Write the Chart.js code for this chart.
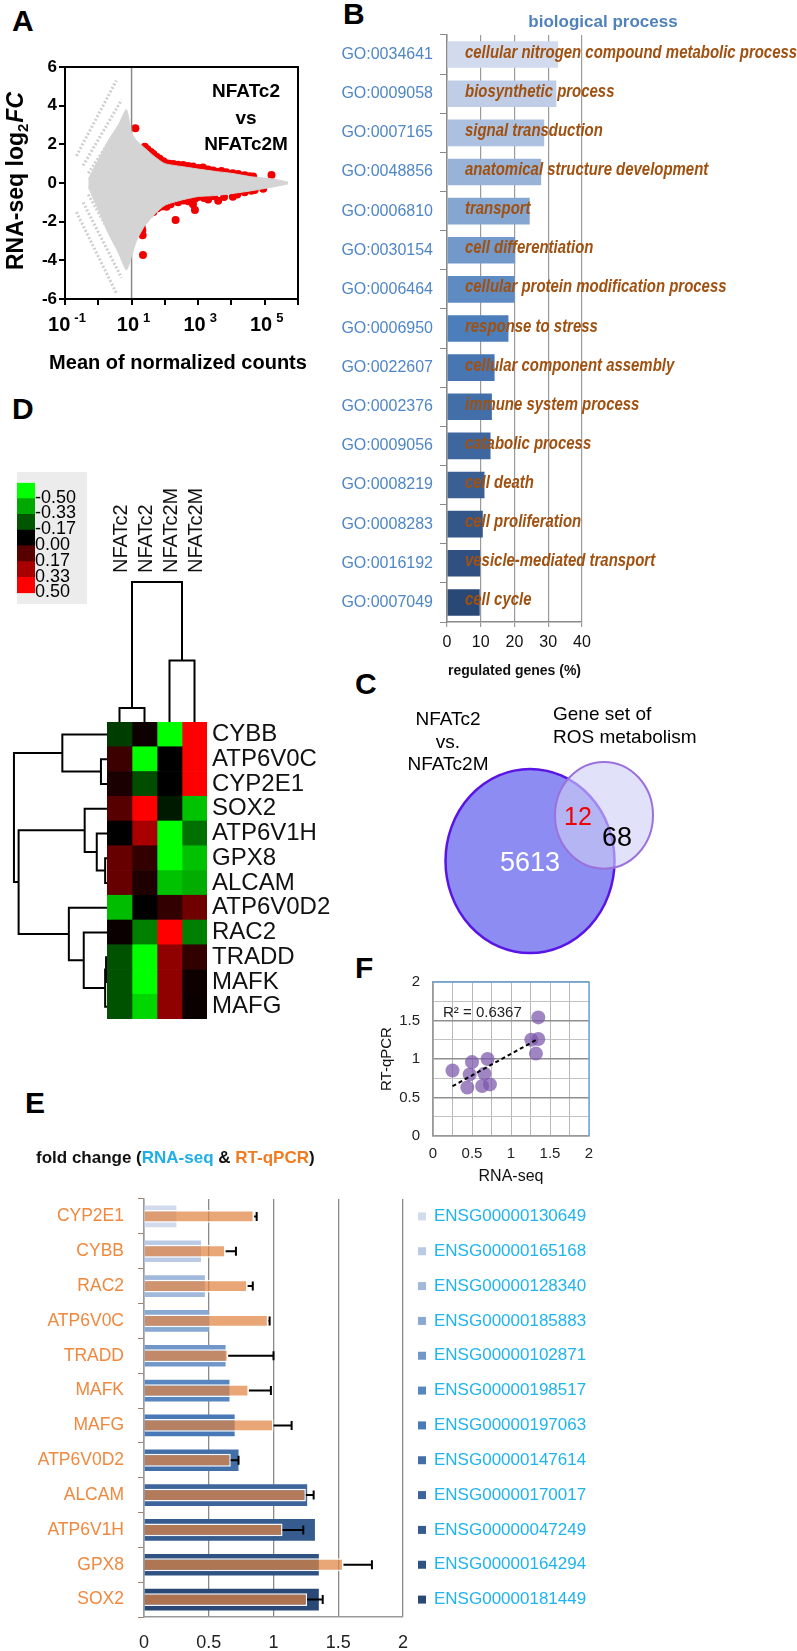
<!DOCTYPE html>
<html lang="en">
<head>
<meta charset="UTF-8">
<title>NFATc2 vs NFATc2M - RNA-seq overview</title>
<script src="https://cdn.jsdelivr.net/npm/chart.js"></script>
<style>
  html, body { margin: 0; padding: 0; background: #fff; }
  body { position: relative; width: 797px; height: 1651px; overflow: hidden; font-family: 'Liberation Sans', Arial, sans-serif; }
  .box { position: absolute; }
  .tag { position: absolute; font: bold 30px 'Liberation Sans', Arial, sans-serif; line-height: 30px; color: #000; }
  #keyBox { background: #ececec; }
</style>
</head>
<body>
  <div class="tag" style="left:12px; top:6px">A</div>
  <div class="tag" style="left:343px; top:-1px">B</div>
  <div class="tag" style="left:12px; top:394px">D</div>
  <div class="tag" style="left:355px; top:669px">C</div>
  <div class="tag" style="left:355px; top:953px">F</div>
  <div class="tag" style="left:25px; top:1088px">E</div>

  <div class="box" style="left:0; top:0; width:330px; height:380px"><canvas id="maChart"></canvas></div>
  <div class="box" style="left:300px; top:0; width:497px; height:690px"><canvas id="goChart"></canvas></div>
  <div class="box" style="left:340px; top:690px; width:457px; height:280px"><canvas id="vennChart"></canvas></div>
  <div class="box" id="keyBox" style="left:17px; top:472px; width:70px; height:132px"><canvas id="heatKey"></canvas></div>
  <div class="box" style="left:97px; top:470px; width:120px; height:252px"><canvas id="colTree"></canvas></div>
  <div class="box" style="left:0; top:722px; width:107px; height:297px"><canvas id="rowTree"></canvas></div>
  <div class="box" style="left:0; top:700px; width:340px; height:340px"><canvas id="heatChart"></canvas></div>
  <div class="box" style="left:370px; top:960px; width:240px; height:230px"><canvas id="corrChart"></canvas></div>
  <div class="box" style="left:0; top:1130px; width:797px; height:521px"><canvas id="foldChart"></canvas></div>

<script>
// ---------- A: MA plot (mean of normalized counts vs log2 fold change) ----------
const cloudCounts = [0.5, 1, 2, 4, 7, 10, 14, 25, 50, 100, 320, 1000, 3200, 10000, 40000, 160000, 500000];
const cloudUpper  = [0.2, 1.2, 2.2, 3.0, 3.8, 2.6, 2.2, 1.8, 1.35, 1.0, 0.85, 0.72, 0.6, 0.5, 0.32, 0.22, 0.05];
const cloudLower  = [-0.2, -1.4, -2.6, -3.6, -4.5, -3.8, -3.0, -2.2, -1.6, -1.15, -0.88, -0.7, -0.65, -0.55, -0.4, -0.22, -0.05];
// low count bands at the left of the cloud: [start, end] as [count, log2FC]
const lowCountBands = [
  [[0.22, 1.4], [3.5, 5.3]],
  [[0.35, 0.9], [5, 4.3]],
  [[0.5, 0.5], [7, 3.5]],
  [[0.22, -1.5], [3.5, -5.7]],
  [[0.35, -1.0], [5, -4.9]],
  [[0.5, -0.6], [7, -4.1]]
];
const sigCounts = [13, 25, 30, 38, 45, 56, 70, 90, 112, 140, 180, 250, 355, 500, 700, 1000, 1400, 2000, 2800, 3500, 5000, 7000, 11000, 16000, 25000, 35000, 45000, 160000,
                   20, 21, 21.5, 22, 24, 28, 35, 45, 60, 80, 112, 150, 210, 250, 355, 500, 700, 800, 800, 1000, 1500, 2000, 3000, 4000, 6000, 11000, 15000, 25000, 40000, 50000, 90000];
const sigLfc    = [2.83, 1.88, 1.75, 1.6, 1.5, 1.36, 1.25, 1.12, 1.02, 1.0, 0.98, 0.95, 0.93, 0.88, 0.85, 0.77, 0.8, 0.7, 0.65, 0.58, 0.62, 0.55, 0.5, 0.47, 0.4, 0.35, 0.33, 0.41,
                   -2.26, -2.45, -2.7, -3.73, -1.9, -1.74, -1.6, -1.5, -1.3, -1.22, -1.23, -1.1, -1.91, -1.0, -0.9, -0.95, -1.1, -0.82, -1.4, -0.72, -0.78, -0.85, -0.68, -0.92, -0.72, -0.71, -0.6, -0.48, -0.4, -0.36, -0.3];
const maDecades = [-1, 0, 1, 2, 3, 4, 5, 6];
const maLabelDecades = [-1, 1, 3, 5];

// ---------- B: GO biological process ----------
const goIds = ['GO:0034641', 'GO:0009058', 'GO:0007165', 'GO:0048856', 'GO:0006810', 'GO:0030154', 'GO:0006464', 'GO:0006950',
               'GO:0022607', 'GO:0002376', 'GO:0009056', 'GO:0008219', 'GO:0008283', 'GO:0016192', 'GO:0007049'];
const goTerms = ['cellular nitrogen compound metabolic process', 'biosynthetic process', 'signal transduction', 'anatomical structure development',
                 'transport', 'cell differentiation', 'cellular protein modification process', 'response to stress', 'cellular component assembly',
                 'immune system process', 'catabolic process', 'cell death', 'cell proliferation', 'vesicle-mediated transport', 'cell cycle'];
const goPercent = [32.9, 32.4, 28.8, 27.9, 24.5, 20.2, 20.0, 18.2, 14.1, 13.3, 12.9, 11.1, 10.6, 9.8, 9.7];

// ---------- C: Venn ----------
const vennCounts = [5613, 12, 68];   // NFATc2 vs NFATc2M only, overlap, ROS gene set only

// ---------- D: heatmap ----------
const heatGenes = ['CYBB', 'ATP6V0C', 'CYP2E1', 'SOX2', 'ATP6V1H', 'GPX8', 'ALCAM', 'ATP6V0D2', 'RAC2', 'TRADD', 'MAFK', 'MAFG'];
const heatSamples = ['NFATc2', 'NFATc2', 'NFATc2M', 'NFATc2M'];
const heatValues = [
  [-0.12, 0.03, -0.50, 0.50],
  [0.12, -0.50, 0.00, 0.50],
  [0.05, -0.15, 0.00, 0.50],
  [0.17, 0.50, -0.05, -0.38],
  [0.00, 0.33, -0.50, -0.22],
  [0.20, 0.10, -0.50, -0.38],
  [0.20, 0.06, -0.38, -0.34],
  [-0.37, 0.00, 0.10, 0.22],
  [0.02, -0.25, 0.50, -0.25],
  [-0.16, -0.50, 0.28, 0.10],
  [-0.16, -0.50, 0.28, 0.03],
  [-0.16, -0.42, 0.28, 0.02]
];
const keyValues = [-0.50, -0.33, -0.17, 0.00, 0.17, 0.33, 0.50];
// linkage: [node a, node b, height]; leaves 0..n-1, merged nodes numbered from n
const rowLinkage = [
  [9, 10, 0.01], [12, 11, 0.02], [5, 6, 0.02], [1, 2, 0.065], [4, 14, 0.11], [3, 16, 0.24],
  [8, 13, 0.25], [7, 18, 0.41], [0, 15, 0.48], [17, 19, 0.95], [20, 21, 1.0]
];
const colLinkage = [[0, 1, 0.1], [2, 3, 0.44], [4, 5, 1.0]];

// ---------- E / F: fold change RNA-seq vs RT-qPCR ----------
const foldGenes = ['CYP2E1', 'CYBB', 'RAC2', 'ATP6V0C', 'TRADD', 'MAFK', 'MAFG', 'ATP6V0D2', 'ALCAM', 'ATP6V1H', 'GPX8', 'SOX2'];
const ensgIds = ['ENSG00000130649', 'ENSG00000165168', 'ENSG00000128340', 'ENSG00000185883', 'ENSG00000102871', 'ENSG00000198517',
                 'ENSG00000197063', 'ENSG00000147614', 'ENSG00000170017', 'ENSG00000047249', 'ENSG00000164294', 'ENSG00000181449'];
const rnaSeqFc = [0.25, 0.44, 0.47, 0.50, 0.63, 0.66, 0.70, 0.73, 1.26, 1.32, 1.35, 1.35];
const qpcrFc   = [0.85, 0.63, 0.80, 0.96, 0.65, 0.81, 1.00, 0.67, 1.25, 1.07, 1.54, 1.26];
const qpcrErr  = [0.02, 0.08, 0.04, 0.01, 0.35, 0.17, 0.14, 0.06, 0.06, 0.16, 0.22, 0.12];
const r2Label = 'R\u00b2 = 0.6367';

// ---------- shared setup ----------
const FAM = "'Liberation Sans', Arial, sans-serif";
Chart.defaults.font.family = FAM;
Chart.defaults.animation = false;
Chart.defaults.responsive = true;
Chart.defaults.maintainAspectRatio = false;
Chart.defaults.events = [];
Chart.defaults.plugins.legend.display = false;
Chart.defaults.plugins.tooltip.enabled = false;

function mix(a, b, t) {
  return a.map((v, i) => Math.round(v + (b[i] - v) * t));
}
// light -> mid -> dark blue, as in the Excel bar styles
function blueShade(t) {
  const light = [210, 219, 237], mid = [76, 126, 188], dark = [42, 72, 118];
  const c = t < 0.5 ? mix(light, mid, t / 0.5) : mix(mid, dark, (t - 0.5) / 0.5);
  return `rgb(${c[0]},${c[1]},${c[2]})`;
}
function heatColor(v) {
  const c = Math.round(255 * Math.min(1, Math.abs(v) / 0.5));
  return v < 0 ? `rgb(0,${c},0)` : `rgb(${c},0,0)`;
}
function drawRich(ctx, parts, x, y, align) {
  let total = 0;
  parts.forEach(p => { ctx.font = p.font; p.w = ctx.measureText(p.text).width; total += p.w + (p.gap || 0); });
  let cx = align === 'center' ? x - total / 2 : (align === 'right' ? x - total : x);
  ctx.textAlign = 'left';
  parts.forEach(p => {
    ctx.font = p.font;
    ctx.fillStyle = p.color || '#000';
    cx += p.gap || 0;
    ctx.fillText(p.text, cx, y + (p.dy || 0));
    cx += p.w;
  });
}
// condensed text (the original figure uses a narrow font)
function narrowText(ctx, text, x, y, squeeze) {
  ctx.save();
  ctx.translate(x, y);
  ctx.scale(squeeze, 1);
  ctx.fillText(text, 0, 0);
  ctx.restore();
}
function dendroLines(linkage, nLeaves, horizontal) {
  const pos = [], hgt = [], lines = [];
  for (let i = 0; i < nLeaves; i++) { pos.push(i); hgt.push(0); }
  linkage.forEach(([a, b, h]) => {
    const pts = [[hgt[a], pos[a]], [h, pos[a]], [h, pos[b]], [hgt[b], pos[b]]];
    pos.push((pos[a] + pos[b]) / 2);
    hgt.push(h);
    lines.push(pts.map(([hh, p]) => horizontal ? { x: hh, y: p } : { x: p, y: hh }));
  });
  return lines;
}
function linearFit(xs, ys) {
  const n = xs.length;
  const mx = xs.reduce((s, v) => s + v, 0) / n, my = ys.reduce((s, v) => s + v, 0) / n;
  let sxy = 0, sxx = 0;
  xs.forEach((x, i) => { sxy += (x - mx) * (ys[i] - my); sxx += (x - mx) * (x - mx); });
  const slope = sxy / sxx;
  return { slope, intercept: my - slope * mx };
}
const halfStep = v => Math.abs(v * 2 - Math.round(v * 2)) < 1e-6;

// ---------- A ----------
const maText = {
  id: 'maText',
  afterDraw(chart) {
    const { ctx, chartArea: a, scales: { x } } = chart;
    ctx.save();
    ctx.strokeStyle = '#000';
    ctx.lineWidth = 2;
    ctx.strokeRect(a.left, a.top, a.right - a.left, a.bottom - a.top);
    ctx.textBaseline = 'alphabetic';
    maLabelDecades.forEach(e => {
      const px = x.getPixelForValue(Math.pow(10, e));
      drawRich(ctx, [
        { text: '10', font: 'bold 20px ' + FAM },
        { text: e < 0 ? '-' + Math.abs(e) : String(e), font: 'bold 13px ' + FAM, dy: -9, gap: 4 }
      ], px + 2, 331, 'center');
    });
    ctx.textBaseline = 'middle';
    drawRich(ctx, [{ text: 'Mean of normalized counts', font: 'bold 20px ' + FAM }], 178, 363, 'center');
    ['NFATc2', 'vs', 'NFATc2M'].forEach((t, i) => {
      drawRich(ctx, [{ text: t, font: 'bold 19px ' + FAM }], 246, 92 + i * 26.5, 'center');
    });
    ctx.textBaseline = 'alphabetic';
    ctx.translate(15, 181);
    ctx.rotate(-Math.PI / 2);
    drawRich(ctx, [
      { text: 'RNA-seq log', font: 'bold 23px ' + FAM },
      { text: '2', font: 'bold 15px ' + FAM, dy: 5 },
      { text: 'FC', font: 'italic bold 23px ' + FAM, gap: 1 }
    ], 0, 8, 'center');
    ctx.restore();
  }
};

new Chart(document.getElementById('maChart'), {
  type: 'scatter',
  data: {
    datasets: [
      { type: 'line', data: cloudCounts.map((c, i) => ({ x: c, y: cloudUpper[i] })), borderColor: '#d4d4d4', borderWidth: 1,
        pointRadius: 0, tension: 0.2, fill: false },
      { type: 'line', data: cloudCounts.map((c, i) => ({ x: c, y: cloudLower[i] })), borderColor: '#d4d4d4', borderWidth: 1,
        pointRadius: 0, tension: 0.2, fill: '-1', backgroundColor: '#d4d4d4' },
      ...lowCountBands.map(band => ({
        type: 'line', data: band.map(p => ({ x: p[0], y: p[1] })), borderColor: '#cfcfcf', borderWidth: 3,
        borderDash: [2, 2], pointRadius: 0, fill: false
      })),
      { type: 'line', data: [{ x: 10, y: -6 }, { x: 10, y: 6 }], borderColor: '#8a8a8a', borderWidth: 1.5, pointRadius: 0, fill: false },
      { data: sigCounts.map((c, i) => ({ x: c, y: sigLfc[i] })), backgroundColor: '#f20000', borderWidth: 0, pointRadius: 4 }
    ]
  },
  options: {
    layout: { padding: { left: 0, top: 67, right: 32, bottom: 0 } },
    scales: {
      x: {
        type: 'logarithmic', min: 0.1, max: 1e6,
        afterBuildTicks: s => { s.ticks = maDecades.map(e => ({ value: Math.pow(10, e) })); },
        ticks: { display: false },
        grid: { drawOnChartArea: false, tickLength: 6, color: '#000', lineWidth: 2 },
        border: { color: '#000', width: 2 },
        afterFit: s => { s.height = 81; }
      },
      y: {
        min: -6, max: 6,
        ticks: { stepSize: 2, color: '#000', font: { size: 17, weight: 'bold' }, padding: 2 },
        grid: { drawOnChartArea: false, tickLength: 6, color: '#000', lineWidth: 2 },
        border: { color: '#000', width: 2 },
        afterFit: s => { s.width = 65; }
      }
    }
  },
  plugins: [maText]
});

// ---------- B ----------
const goText = {
  id: 'goText',
  afterDatasetsDraw(chart) {
    const { ctx, chartArea: a, scales: { y } } = chart;
    ctx.save();
    ctx.textBaseline = 'alphabetic';
    ctx.textAlign = 'left';
    ctx.fillStyle = '#a0500f';
    ctx.font = 'italic bold 18px ' + FAM;
    goTerms.forEach((t, i) => narrowText(ctx, t, a.left + 18, y.getPixelForValue(i) + 3, 0.83));
    ctx.textBaseline = 'middle';
    ctx.textAlign = 'center';
    ctx.fillStyle = '#4f81bd';
    ctx.font = 'bold 17px ' + FAM;
    ctx.fillText('biological process', 303, 22);
    ctx.restore();
  }
};

new Chart(document.getElementById('goChart'), {
  type: 'bar',
  data: {
    labels: goIds,
    datasets: [{
      data: goPercent,
      backgroundColor: goIds.map((_, i) => blueShade(i / (goIds.length - 1))),
      barPercentage: 0.68, categoryPercentage: 1
    }]
  },
  options: {
    indexAxis: 'y',
    layout: { padding: { left: 0, top: 35, right: 215, bottom: 0 } },
    scales: {
      x: {
        min: 0, max: 40,
        ticks: { stepSize: 10, color: '#111', font: { size: 16 }, padding: 6 },
        grid: { color: '#9a9a9a', lineWidth: 1.2, tickLength: 5 },
        border: { color: '#8a8a8a', width: 1.5 },
        title: { display: true, text: 'regulated genes (%)', color: '#111', font: { size: 14, weight: 'bold' }, padding: { top: 2, bottom: 10 } },
        afterFit: s => { s.height = 68; }
      },
      y: {
        ticks: { color: '#4f86c6', font: { size: 16 }, padding: 7, autoSkip: false },
        grid: { drawOnChartArea: false, tickLength: 7, color: '#8a8a8a' },
        border: { color: '#8a8a8a', width: 1.5 },
        afterFit: s => { s.width = 147; }
      }
    }
  },
  plugins: [goText]
});

// ---------- C ----------
const vennShapes = [
  { cx: 19.0, cy: 15.7, r: 8.45, fill: '#8c8cf2', stroke: '#5a14e6', lw: 2.5 },
  { cx: 26.4, cy: 11.5, r: 4.9, fill: 'rgba(206,206,246,0.62)', stroke: '#9b72dc', lw: 2 }
];
const vennDraw = {
  id: 'vennDraw',
  afterDatasetsDraw(chart) {
    const { ctx, scales: { x, y } } = chart;
    ctx.save();
    vennShapes.forEach(s => {
      const px = x.getPixelForValue(s.cx), py = y.getPixelForValue(s.cy);
      const rx = Math.abs(x.getPixelForValue(s.cx + s.r) - px), ry = Math.abs(y.getPixelForValue(s.cy + s.r) - py);
      ctx.beginPath();
      ctx.ellipse(px, py, rx, ry, 0, 0, Math.PI * 2);
      ctx.fillStyle = s.fill;
      ctx.fill();
      ctx.lineWidth = s.lw;
      ctx.strokeStyle = s.stroke;
      ctx.stroke();
    });
    ctx.textBaseline = 'middle';
    ctx.textAlign = 'center';
    ctx.fillStyle = '#000';
    ctx.font = '19px ' + FAM;
    ['NFATc2', 'vs.', 'NFATc2M'].forEach((t, i) => ctx.fillText(t, x.getPixelForValue(10.8), y.getPixelForValue(2.75 + i * 2.05)));
    ctx.textAlign = 'left';
    ['Gene set of', 'ROS metabolism'].forEach((t, i) => ctx.fillText(t, x.getPixelForValue(21.3), y.getPixelForValue(2.3 + i * 2.05)));
    ctx.textAlign = 'center';
    ctx.font = '27px ' + FAM;
    ctx.fillStyle = '#fff';
    ctx.fillText(String(vennCounts[0]), x.getPixelForValue(19.0), y.getPixelForValue(15.9));
    ctx.fillStyle = '#000';
    ctx.fillText(String(vennCounts[2]), x.getPixelForValue(27.7), y.getPixelForValue(13.6));
    ctx.font = '25px ' + FAM;
    ctx.fillStyle = '#f00000';
    ctx.fillText(String(vennCounts[1]), x.getPixelForValue(23.8), y.getPixelForValue(11.75));
    ctx.restore();
  }
};
new Chart(document.getElementById('vennChart'), {
  type: 'scatter',
  data: { datasets: [{ data: vennShapes.map(s => ({ x: s.cx, y: s.cy })), pointRadius: 0 }] },
  options: {
    layout: { padding: 0 },
    scales: {
      x: { display: false, min: 0, max: 45.7 },
      y: { display: false, min: 0, max: 25.7, reverse: true }
    }
  },
  plugins: [vennDraw]
});

// ---------- D ----------
new Chart(document.getElementById('heatKey'), {
  type: 'bar',
  data: {
    labels: keyValues.map(v => v.toFixed(2)),
    datasets: [{ data: keyValues.map(() => 1), backgroundColor: keyValues.map(heatColor), barPercentage: 1, categoryPercentage: 1 }]
  },
  options: {
    indexAxis: 'y',
    layout: { padding: { left: 0, top: 0, right: 0, bottom: 5 } },
    scales: {
      x: { display: false, min: 0, max: 1 },
      y: {
        position: 'right',
        ticks: { color: '#000', font: { size: 18 }, padding: 0, labelOffset: 7, autoSkip: false },
        grid: { display: false, drawTicks: false },
        border: { display: false },
        afterFit: s => { s.width = 52; }
      }
    }
  }
});

const colLabels = {
  id: 'colLabels',
  afterDraw(chart) {
    const { ctx, chartArea: a, scales: { x } } = chart;
    ctx.save();
    ctx.font = '20px ' + FAM;
    ctx.fillStyle = '#111';
    ctx.textBaseline = 'middle';
    ctx.textAlign = 'left';
    heatSamples.forEach((s, i) => {
      ctx.save();
      ctx.translate(x.getPixelForValue(i) + 2, a.top - 9);
      ctx.rotate(-Math.PI / 2);
      ctx.fillText(s, 0, 0);
      ctx.restore();
    });
    ctx.restore();
  }
};
new Chart(document.getElementById('colTree'), {
  type: 'scatter',
  data: {
    datasets: dendroLines(colLinkage, heatSamples.length, false).map(pts => ({
      data: pts, showLine: true, borderColor: '#000', borderWidth: 2, pointRadius: 0, clip: false
    }))
  },
  options: {
    layout: { padding: { left: 10, right: 10, top: 112, bottom: 0 } },
    scales: {
      x: { display: false, min: -0.5, max: 3.5 },
      y: { display: false, min: 0, max: 1 }
    }
  },
  plugins: [colLabels]
});

new Chart(document.getElementById('rowTree'), {
  type: 'scatter',
  data: {
    datasets: dendroLines(rowLinkage, heatGenes.length, true).map(pts => ({
      data: pts, showLine: true, borderColor: '#000', borderWidth: 2, pointRadius: 0, clip: false
    }))
  },
  options: {
    layout: { padding: 0 },
    scales: {
      x: { display: false, min: 0, max: 1.15, reverse: true },
      y: { display: false, min: -0.5, max: 11.5, reverse: true }
    }
  }
});

new Chart(document.getElementById('heatChart'), {
  type: 'bar',
  data: {
    labels: heatGenes,
    datasets: heatSamples.map((s, j) => ({
      label: s,
      data: heatGenes.map(() => 1),
      backgroundColor: heatGenes.map((g, r) => heatColor(heatValues[r][j])),
      barPercentage: 1, categoryPercentage: 1, borderWidth: 0
    }))
  },
  options: {
    indexAxis: 'y',
    layout: { padding: { left: 107, top: 22, right: 0, bottom: 21 } },
    scales: {
      x: { display: false, stacked: true, min: 0, max: 4 },
      y: {
        stacked: true, position: 'right',
        ticks: { color: '#111', font: { size: 24 }, padding: 5, autoSkip: false },
        grid: { display: false, drawTicks: false },
        border: { display: false },
        afterFit: s => { s.width = 133; }
      }
    }
  }
});

// ---------- F ----------
const fit = linearFit(rnaSeqFc, qpcrFc);
const fitX = [Math.min(...rnaSeqFc), Math.max(...rnaSeqFc)];
const corrDecor = {
  id: 'corrDecor',
  afterDraw(chart) {
    const { ctx, chartArea: a } = chart;
    ctx.save();
    ctx.strokeStyle = '#6fa8dc';
    ctx.lineWidth = 1.5;
    ctx.beginPath();
    ctx.moveTo(a.left, a.top);
    ctx.lineTo(a.right, a.top);
    ctx.lineTo(a.right, a.bottom);
    ctx.stroke();
    ctx.font = '15px ' + FAM;
    ctx.fillStyle = '#222';
    ctx.textBaseline = 'middle';
    ctx.textAlign = 'left';
    ctx.fillText(r2Label, 73, 53);
    ctx.restore();
  }
};
new Chart(document.getElementById('corrChart'), {
  type: 'scatter',
  data: {
    datasets: [
      { type: 'line', data: fitX.map(v => ({ x: v, y: fit.intercept + fit.slope * v })), borderColor: '#000',
        borderWidth: 2, borderDash: [4, 3], pointRadius: 0, fill: false, order: 1 },
      { data: rnaSeqFc.map((v, i) => ({ x: v, y: qpcrFc[i] })), backgroundColor: 'rgba(124,86,172,0.72)', borderWidth: 0, pointRadius: 7, order: 2 }
    ]
  },
  options: {
    layout: { padding: { left: 0, top: 20, right: 21, bottom: 0 } },
    scales: {
      x: {
        min: 0, max: 2,
        ticks: { stepSize: 0.25, autoSkip: false, maxRotation: 0, color: '#222', font: { size: 15 }, padding: 9,
                 callback: v => (halfStep(v) ? String(v) : '') },
        grid: { color: '#b8b8b8', drawTicks: false },
        border: { color: '#999', width: 1.5 },
        title: { display: true, text: 'RNA-seq', color: '#111', font: { size: 16 }, padding: { top: 0, bottom: 4 } },
        afterFit: s => { s.height = 54; }
      },
      y: {
        min: 0, max: 2,
        ticks: { stepSize: 0.25, autoSkip: false, color: '#222', font: { size: 15 }, padding: 13,
                 callback: v => (halfStep(v) ? String(v) : '') },
        grid: {
          drawTicks: false,
          color: c => (c.tick && halfStep(c.tick.value) ? '#8f8f8f' : '#c2c2c2'),
          lineWidth: c => (c.tick && halfStep(c.tick.value) ? 1.6 : 1)
        },
        border: { color: '#999', width: 1.5 },
        title: { display: true, text: 'RT-qPCR', color: '#111', font: { size: 15 }, padding: { top: 8, bottom: 0 } },
        afterFit: s => { s.width = 63; }
      }
    }
  },
  plugins: [corrDecor]
});

// ---------- E ----------
const foldDecor = {
  id: 'foldDecor',
  afterDatasetsDraw(chart) {
    const { ctx, scales: { x, y } } = chart;
    ctx.save();
    ctx.strokeStyle = '#000';
    ctx.lineWidth = 2;
    qpcrFc.forEach((v, i) => {
      const py = y.getPixelForValue(i);
      const x0 = x.getPixelForValue(v), x1 = x.getPixelForValue(v + qpcrErr[i]);
      ctx.beginPath();
      ctx.moveTo(x0, py); ctx.lineTo(x1, py);
      ctx.moveTo(x1, py - 4.5); ctx.lineTo(x1, py + 4.5);
      ctx.stroke();
    });
    ctx.textBaseline = 'middle';
    ctx.font = '17px ' + FAM;
    ensgIds.forEach((id, i) => {
      const py = y.getPixelForValue(i);
      ctx.fillStyle = blueShade(i / (ensgIds.length - 1));
      ctx.fillRect(418, py - 4, 8, 8);
      ctx.fillStyle = '#1fb4ee';
      ctx.textAlign = 'left';
      ctx.fillText(id, 434, py);
    });
    drawRich(ctx, [
      { text: 'fold change (', font: 'bold 17px ' + FAM, color: '#111' },
      { text: 'RNA-seq', font: 'bold 17px ' + FAM, color: '#1faee8' },
      { text: ' & ', font: 'bold 17px ' + FAM, color: '#111' },
      { text: 'RT-qPCR', font: 'bold 17px ' + FAM, color: '#f07c22' },
      { text: ')', font: 'bold 17px ' + FAM, color: '#111' }
    ], 36, 28, 'left');
    ctx.restore();
  }
};
new Chart(document.getElementById('foldChart'), {
  type: 'bar',
  data: {
    labels: foldGenes,
    datasets: [
      { label: 'RNA-seq', data: rnaSeqFc, backgroundColor: foldGenes.map((_, i) => blueShade(i / (foldGenes.length - 1))),
        barPercentage: 0.62, categoryPercentage: 1, grouped: false, order: 2 },
      { label: 'RT-qPCR', data: qpcrFc, backgroundColor: 'rgba(224,132,66,0.72)', borderColor: 'rgba(255,255,255,0.95)', borderWidth: 1.5,
        barPercentage: 0.37, categoryPercentage: 1, grouped: false, order: 1 }
    ]
  },
  options: {
    indexAxis: 'y',
    layout: { padding: { left: 0, top: 69, right: 394, bottom: 0 } },
    scales: {
      x: {
        min: 0, max: 2,
        ticks: { stepSize: 0.5, color: '#222', font: { size: 18 }, padding: 15, callback: v => String(v) },
        grid: { color: '#8a8a8a', lineWidth: 1.3, drawTicks: false },
        border: { color: '#999', width: 1.5 },
        afterFit: s => { s.height = 34; }
      },
      y: {
        ticks: { color: '#f0883e', font: { size: 17.5 }, padding: 14, autoSkip: false },
        grid: { drawOnChartArea: false, tickLength: 6, color: '#a08070' },
        border: { color: '#999', width: 1.5 },
        afterFit: s => { s.width = 144; }
      }
    }
  },
  plugins: [foldDecor]
});
</script>
</body>
</html>
